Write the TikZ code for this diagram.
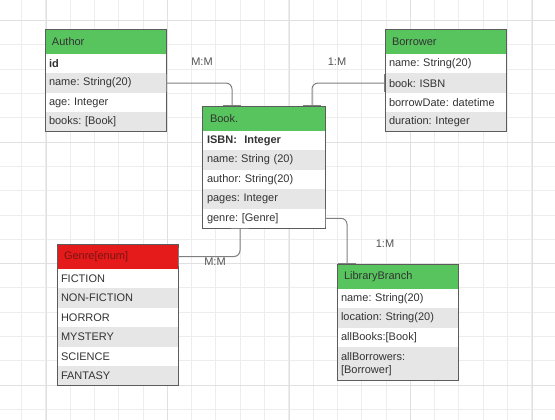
\documentclass[tikz,border=0pt]{standalone}
\usepackage{fontspec}
\setmainfont{Liberation Sans}
\usepackage{tikz}
\usetikzlibrary{arrows.meta, positioning}
\frenchspacing
\definecolor{HeadGreen}{HTML}{57C45E}
\definecolor{EnumRed}{HTML}{E51A1A}
\definecolor{EnumText}{HTML}{7A1414}
\definecolor{EdgeGray}{HTML}{5C5C5C}
\definecolor{RowGray}{HTML}{E6E6E6}
\definecolor{TextGray}{HTML}{333333}
\definecolor{LinkGray}{HTML}{808080}
\definecolor{GridMinor}{HTML}{EDEDED}
\definecolor{GridMajor}{HTML}{E0E0E0}
\tikzset{
  % Table styles
  headbox/.style={rectangle, draw=EdgeGray, line width=0.9pt, fill=HeadGreen, minimum width=121pt, text width=107pt, inner xsep=7pt, inner ysep=0pt, minimum height=25pt, outer sep=0pt, font=\fontsize{11}{13}\selectfont, text=TextGray, align=left, anchor=north west},
  enumhead/.style={headbox, fill=EnumRed, text=EnumText},
  rowbox/.style={rectangle, fill=white, minimum width=121pt, text width=113pt, inner xsep=4pt, inner ysep=0pt, minimum height=19.4pt, outer sep=0pt, font=\fontsize{11}{13}\selectfont, text=TextGray, align=left},
  shadebox/.style={rowbox, fill=RowGray},
  widebox/.style={minimum width=123pt},
  outline/.style={draw=EdgeGray, line width=0.9pt},
  % Connector styles
  linkline/.style={{Bar[width=18pt]}-{Bar[width=18pt]}, draw=LinkGray, line width=1pt, rounded corners=6pt},
  cardlabel/.style={font=\fontsize{11}{13}\selectfont, text=TextGray!85},
  % Grid styles
  gridminor/.style={draw=GridMinor, line width=0.8pt},
  gridmajor/.style={draw=GridMajor, line width=0.8pt}
}

\begin{document}
\begin{tikzpicture}[x=1pt, y=-1pt]
  \useasboundingbox (0,0) rectangle (555,420);
  % Background grid
  \begin{scope}
    \clip (0,0) rectangle (555,420);
    \foreach \i in {0,...,23} \draw[gridminor] ({-2.9+24.3*\i},0) -- ++(0,420);
    \foreach \i in {0,...,18} \draw[gridminor] (0,{-3.8+24.3*\i}) -- ++(555,0);
    \foreach \i in {0,...,4} \draw[gridmajor] ({46+121.5*\i},0) -- ++(0,420);
    \foreach \i in {0,...,3} \draw[gridmajor] (0,{20.5+121.5*\i}) -- ++(555,0);
  \end{scope}

  % Author
  \node[headbox] (author-h) at (45,29) {Author};
  \node[rowbox, below=0pt of author-h] (author-1) {\textbf{id}};
  \node[shadebox, below=0pt of author-1] (author-2) {name: String(20)};
  \node[rowbox, below=0pt of author-2] (author-3) {age: Integer};
  \node[shadebox, below=0pt of author-3] (author-4) {books: [Book]};
  \draw[outline] (author-h.north west) rectangle (author-4.south east);

  % Borrower
  \node[headbox] (borrower-h) at (385,29) {Borrower};
  \node[rowbox, below=0pt of borrower-h] (borrower-1) {name: String(20)};
  \node[shadebox, below=0pt of borrower-1] (borrower-2) {book: ISBN};
  \node[rowbox, below=0pt of borrower-2] (borrower-3) {borrowDate: datetime};
  \node[shadebox, below=0pt of borrower-3] (borrower-4) {duration: Integer};
  \draw[outline] (borrower-h.north west) rectangle (borrower-4.south east);

  % Book
  \node[headbox, widebox] (book-h) at (202,106) {Book.};
  \node[rowbox, widebox, below=0pt of book-h] (book-1) {\textbf{ISBN:\ \ Integer}};
  \node[shadebox, widebox, below=0pt of book-1] (book-2) {name: String (20)};
  \node[rowbox, widebox, below=0pt of book-2] (book-3) {author: String(20)};
  \node[shadebox, widebox, below=0pt of book-3] (book-4) {pages: Integer};
  \node[rowbox, widebox, below=0pt of book-4] (book-5) {genre: [Genre]};
  \draw[outline] (book-h.north west) rectangle (book-5.south east);

  % Genre enum
  \node[enumhead] (genre-h) at (57,244) {Genre[enum]};
  \node[rowbox, below=0pt of genre-h] (genre-1) {FICTION};
  \node[shadebox, below=0pt of genre-1] (genre-2) {NON-FICTION};
  \node[rowbox, below=0pt of genre-2] (genre-3) {HORROR};
  \node[shadebox, below=0pt of genre-3] (genre-4) {MYSTERY};
  \node[rowbox, below=0pt of genre-4] (genre-5) {SCIENCE};
  \node[shadebox, below=0pt of genre-5] (genre-6) {FANTASY};
  \draw[outline] (genre-h.north west) rectangle (genre-6.south east);

  % LibraryBranch
  \node[headbox] (branch-h) at (337,264) {LibraryBranch};
  \node[rowbox, below=0pt of branch-h] (branch-1) {name: String(20)};
  \node[shadebox, below=0pt of branch-1] (branch-2) {location: String(20)};
  \node[rowbox, below=0pt of branch-2] (branch-3) {allBooks:[Book]};
  \node[shadebox, minimum height=33pt, below=0pt of branch-3] (branch-4) {allBorrowers:\\{}[Borrower]};
  \draw[outline] (branch-h.north west) rectangle (branch-4.south east);

  % Connection points
  \coordinate (book-in-a) at ([xshift=30pt]book-h.north west);
  \coordinate (book-in-b) at ([xshift=110pt]book-h.north west);
  \coordinate (book-out-g) at ([xshift=38pt]book-5.south west);
  \coordinate (branch-in) at ([xshift=10pt]branch-h.north west);

  % Relations
  \draw[linkline] (author-2.east) -| (book-in-a);
  \draw[linkline] (borrower-2.west) -| (book-in-b);
  \draw[linkline] (book-out-g) |- (genre-h.east);
  \draw[linkline] (book-5.east) -| (branch-in);

  % Cardinalities
  \node[cardlabel] (card-ab) at (202,62) {M:M};
  \node[cardlabel] (card-bb) at (337,62) {1:M};
  \node[cardlabel] (card-bg) at (215,262) {M:M};
  \node[cardlabel] (card-bl) at (385,244) {1:M};
\end{tikzpicture}
\end{document}
